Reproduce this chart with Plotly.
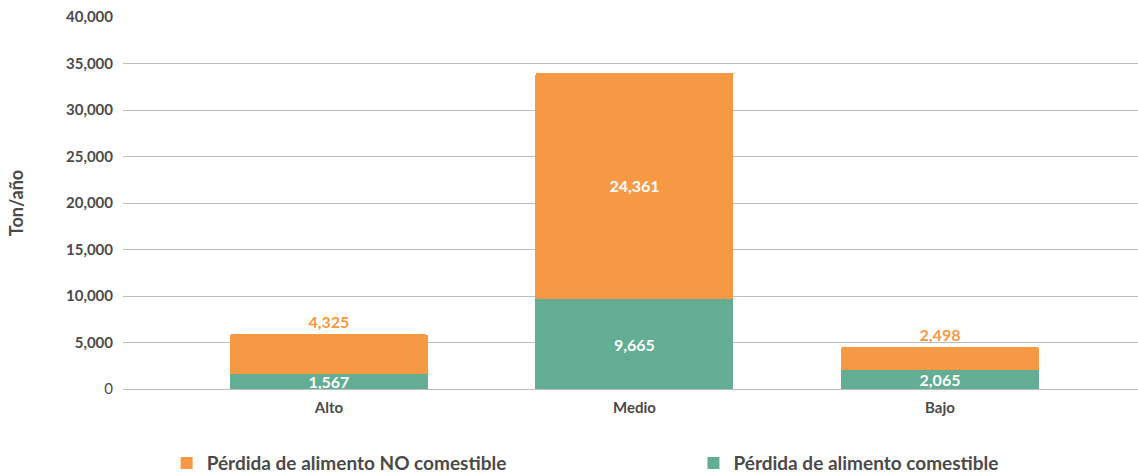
import plotly.graph_objects as go

# Food loss by stratum (tonnes per year)
categorias = ["Alto", "Medio", "Bajo"]
no_comestible = [4325, 24361, 2498]
comestible = [1567, 9665, 2065]
ticks_y = [0, 5000, 10000, 15000, 20000, 25000, 30000, 35000, 40000]
ticks_y_text = ["<span style='font-weight:normal'>0</span>", "5,000", "10,000", "15,000",
                "20,000", "25,000", "30,000", "35,000", "40,000"]

NARANJA = "#F69844"
VERDE = "#62AD94"
GRIS_TEXTO = "#4a4a4a"
FUENTE = "Lato"

# Non-edible labels sit above short bars and inside the tall one
pos_no_com = ["outside" if v < 10000 else "inside" for v in no_comestible]
color_no_com = [NARANJA if p == "outside" else "white" for p in pos_no_com]

fig = go.Figure()
fig.add_trace(go.Bar(
    x=categorias, y=comestible, name="Pérdida de alimento comestible",
    marker=dict(color=VERDE, line=dict(width=0)),
    text=[f"{v:,}" for v in comestible], textposition="inside",
    insidetextanchor="middle", textangle=0, constraintext="none",
    textfont=dict(family=FUENTE, size=16, color="white", weight="bold"),
    showlegend=False,
))
fig.add_trace(go.Bar(
    x=categorias, y=no_comestible, name="Pérdida de alimento NO comestible",
    marker=dict(color=NARANJA, line=dict(width=0), cornerradius=3),
    text=[f"{v:,}" for v in no_comestible], textposition=pos_no_com,
    insidetextanchor="middle", textangle=0, constraintext="none",
    textfont=dict(family=FUENTE, size=16, color=color_no_com, weight="bold"),
    cliponaxis=False, showlegend=False,
))

# Legend entries with larger square swatches, one legend box each
for nombre, color, leyenda in [("Pérdida de alimento NO comestible", NARANJA, "legend"),
                               ("Pérdida de alimento comestible", VERDE, "legend2")]:
    fig.add_trace(go.Scatter(
        x=[None], y=[None], mode="markers", name=nombre, legend=leyenda,
        marker=dict(symbol="square", size=15, color=color),
    ))

leyenda_base = dict(
    orientation="h", yref="container", y=0.023, yanchor="middle", xanchor="left",
    font=dict(family=FUENTE, size=19, color=GRIS_TEXTO, weight="bold"),
    itemsizing="constant", bgcolor="rgba(0,0,0,0)",
)

fig.update_layout(
    barmode="stack",
    bargap=0.352,
    width=1138, height=474,
    margin=dict(l=123, r=0, t=17, b=85, autoexpand=False),
    plot_bgcolor="white", paper_bgcolor="white",
    font=dict(family=FUENTE, color=GRIS_TEXTO),
    legend=dict(leyenda_base, x=0.043),
    legend2=dict(leyenda_base, x=0.562),
    xaxis=dict(
        range=[-0.674, 2.648], showgrid=False, showline=False, ticks="",
        tickfont=dict(family=FUENTE, size=15, color=GRIS_TEXTO, weight="bold"),
        ticklabelstandoff=8,
    ),
    yaxis=dict(
        range=[0, 40000], tickvals=ticks_y, ticktext=ticks_y_text,
        showgrid=True, gridcolor="#bdbdbd", gridwidth=1,
        zeroline=True, zerolinecolor="#bdbdbd", zerolinewidth=1,
        tickfont=dict(family=FUENTE, size=15, color=GRIS_TEXTO, weight="bold"),
        ticks="", ticklen=0, ticklabelstandoff=9,
        title=dict(text="Ton/año", standoff=37,
                   font=dict(family=FUENTE, size=18, color=GRIS_TEXTO, weight="bold")),
    ),
)

fig.write_html("out.html")
